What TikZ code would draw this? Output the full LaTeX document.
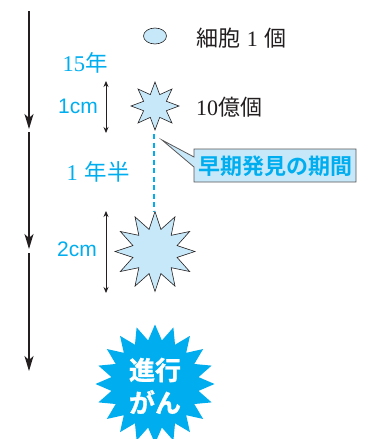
\documentclass[tikz,border=0pt]{standalone}
\usepackage{fontspec}
\setmainfont{Liberation Serif}
\newfontfamily\jp{Noto Sans CJK JP}
\newfontfamily\jpb[FakeBold=1.2]{Noto Sans CJK JP Bold}
\newfontfamily\jpc{Noto Sans CJK JP Bold}
\newfontfamily\latinsans{Liberation Sans}
\usetikzlibrary{shapes.geometric,arrows.meta}
\definecolor{cy}{HTML}{00AEEF}
\definecolor{pale}{HTML}{C7E8F9}
\definecolor{ink}{HTML}{231F20}
\tikzset{
 x=1pt,y=-1pt,
 timeline/.style={ink,line width=1.3pt,-{Stealth[length=15pt,width=9pt,inset=4pt]}},
 span/.style={ink,line width=0.8pt,{Stealth[length=6pt,width=5pt]}-{Stealth[length=6pt,width=5pt]}},
 spark/.style={star,draw=ink,fill=pale,line width=0.6pt,inner sep=0pt},
 lab/.style={inner sep=0pt,text=ink,font=\fontsize{22}{22}\selectfont,anchor=west},
 blue/.style={inner sep=0pt,text=cy,font=\fontsize{22.5}{23}\selectfont},
 size/.style={inner sep=0pt,text=cy,font=\latinsans\fontsize{21}{21}\selectfont},
}
\begin{document}
\begin{tikzpicture}
\useasboundingbox[clip] (0,0) rectangle (369,439);
\fill[white] (0,0) rectangle (369,439);
% time line
\coordinate (t0) at (29,11);
\coordinate (t1) at (29,129);
\coordinate (t2) at (29,132);
\coordinate (t3) at (29,249);
\coordinate (t4) at (29,253);
\coordinate (t5) at (29,371);
\draw[timeline] (t0) -- (t1);
\draw[timeline] (t2) -- (t3);
\draw[timeline] (t4) -- (t5);
% stages
\node[ellipse,draw=ink,fill=pale,line width=0.6pt,minimum width=23pt,minimum height=16pt,inner sep=0pt] (cell) at (155,36) {};
\node[lab] (cellt) at (196,38) {\jp 細胞\hspace{0.3em}{\rmfamily 1}\hspace{0.3em}個};
\node[spark,star points=8,star point ratio=1.95,minimum size=48pt] (s1) at (155,106) {};
\node[lab] (s1t) at (196,107) {10\jp 億個};
\node[spark,star points=12,star point ratio=1.75,minimum size=80pt] (s2) at (155,251.5) {};
\node[star,star points=20,star point ratio=1.35,minimum size=119pt,fill=cy,inner sep=0pt] (s3) at (155,384) {};
\node[inner sep=0pt,text=white,font=\jpb\fontsize{26}{26}\selectfont] (s3a) at (155,370) {進行};
\node[inner sep=0pt,text=white,font=\jpb\fontsize{26}{26}\selectfont] (s3b) at (155,402) {がん};
% dashed link
\draw[cy,line width=1.3pt,dash pattern=on 5pt off 3.5pt] (154,134) -- (s2.north -| 154,0);
% left labels
\node[blue] (y15) at (85,63) {15\jp 年};
\node[blue] (y1) at (98,172) {1\hspace{0.3em}{\jp 年半}};
\node[size] (c1) at (78,106) {1cm};
\node[size] (c2) at (77,249) {2cm};
\coordinate (a1) at (106,81);
\coordinate (a2) at (106,133);
\coordinate (b1) at (106,211);
\coordinate (b2) at (106,293);
\draw[span] (a1) -- (a2);
\draw[span] (b1) -- (b2);
% callout
\coordinate (tip) at (162,140);
\draw[fill=pale,draw=ink!75,line width=0.8pt] (tip) -- (194,157) -- (194,149) -- (356,149) -- (356,182) -- (194,182) -- (194,167) -- cycle;
\node[inner sep=0pt,text=cy,font=\jpc\fontsize{22}{22}\selectfont] (call) at (275,166) {早期発見の期間};
\end{tikzpicture}
\end{document}
